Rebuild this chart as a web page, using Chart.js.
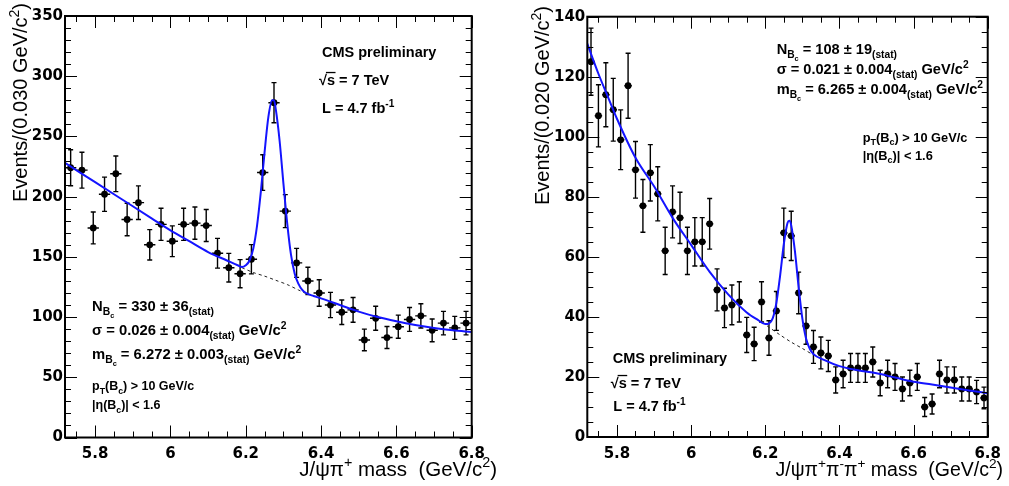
<!DOCTYPE html>
<html><head><meta charset="utf-8">
<script src="https://cdn.jsdelivr.net/npm/chart.js@4/dist/chart.umd.min.js"></script>
<style>
html,body{margin:0;padding:0;background:#fff;}
#wrap{position:relative;width:1009px;height:486px;overflow:hidden;background:#fff;}
canvas{position:absolute;top:0;}
</style></head><body>
<div id="wrap">
<canvas id="cL" width="505" height="486" style="left:0;width:505px;height:486px"></canvas>
<canvas id="cR" width="504" height="486" style="left:505px;width:504px;height:486px"></canvas>
</div>
<script>
// ---------------- data ----------------
const xTicks = [5.8, 6, 6.2, 6.4, 6.6, 6.8];
const leftYTicks = [0, 50, 100, 150, 200, 250, 300, 350];
const rightYTicks = [0, 20, 40, 60, 80, 100, 120, 140];

// Left: J/psi pi+ , bins of 0.030 GeV/c^2
const leftMass = [5.735,5.765,5.795,5.825,5.855,5.885,5.915,5.945,5.975,6.005,6.035,6.065,6.095,6.125,6.155,6.185,6.215,6.245,6.275,6.305,6.335,6.365,6.395,6.425,6.455,6.485,6.515,6.545,6.575,6.605,6.635,6.665,6.695,6.725,6.755,6.785];
const leftEvents = [224,222,174,202,219,181,195,160,177,163,177,178,176,153,141,136,148,220,278,188,145,130,120,110,104,106,81,99,83,92,98,101,89,95,91,95];
const leftFitMass = [5.72,5.76,5.80,5.85,5.90,5.95,6.00,6.05,6.10,6.15,6.18,6.19,6.20,6.21,6.22,6.23,6.24,6.25,6.26,6.27,6.275,6.28,6.29,6.30,6.31,6.32,6.33,6.34,6.35,6.36,6.38,6.40,6.45,6.50,6.55,6.60,6.65,6.70,6.75,6.80];
const leftFitValue = [228,220,212,202,192,182,172,163,154,147,142.8,141.5,143,147,157,176,204,237,266,280,280,272,246,211,178,152,136,127.5,122.5,120,117.5,115.5,110,104.5,100,96.5,93.5,91,89,87.5];
const leftBkgMass = [6.19,6.22,6.25,6.28,6.31,6.34,6.36];
const leftBkgValue = [141,137,134,130.5,127,122.5,119.5];

// Right: J/psi pi+ pi- pi+ , bins of 0.020 GeV/c^2
const rightMass = [5.73,5.75,5.77,5.79,5.81,5.83,5.85,5.87,5.89,5.91,5.93,5.95,5.97,5.99,6.01,6.03,6.05,6.07,6.09,6.11,6.13,6.15,6.17,6.19,6.21,6.23,6.25,6.27,6.29,6.31,6.33,6.35,6.37,6.39,6.41,6.43,6.45,6.47,6.49,6.51,6.53,6.55,6.57,6.59,6.61,6.63,6.65,6.67,6.69,6.71,6.73,6.75,6.77,6.79];
const rightEvents = [125,107,114,109,99,117,89,77,88,81,62,75,73,62,65,65,71,49,43,44,45,34,31,45,33,42,68,67,48,37,30,28,27,19,21,23,23,23,25,18,21,20,16,18,20,10,11,21,19,19,16,16,15,13];
const rightFitMass = [5.72,5.75,5.78,5.80,5.85,5.90,5.95,6.00,6.05,6.10,6.15,6.18,6.20,6.21,6.22,6.23,6.24,6.25,6.26,6.265,6.27,6.28,6.29,6.30,6.31,6.32,6.33,6.36,6.40,6.45,6.50,6.55,6.60,6.65,6.70,6.75,6.80];
const rightFitValue = [131,121,112,106,93,83.5,73,64,55,47.5,41.5,39,37.6,37.8,39.5,44.7,53.7,64.2,71.3,72,70.5,61.9,49.9,39.5,32.8,29.4,27.6,25.6,23.6,22.2,21.2,19.8,18.4,17.5,16.5,15.5,14.6];
const rightBkgMass = [6.205,6.24,6.27,6.30,6.33];
const rightBkgValue = [37,34,31.6,29.5,27.3];

// ---------------- text helpers ----------------
const TXT = '"Liberation Sans", Arial, Helvetica, sans-serif';
const N = t => ({t});
const SUB = t => ({t, f:0.7, dy:0.28});
const SUBSUB = t => ({t, f:0.5, dy:0.45});
const SUP = t => ({t, f:0.7, dy:-0.42});

function setFont(ctx, size, weight){ ctx.font = weight + ' ' + size + 'px ' + TXT; }
function richWidth(ctx, segs, size, weight){
  let w = 0;
  for (const s of segs){ setFont(ctx, size*(s.f||1), weight); w += ctx.measureText(s.t).width; }
  return w;
}
function drawRich(ctx, x, y, segs, size, weight){
  let cx = x;
  ctx.textAlign = 'left'; ctx.textBaseline = 'alphabetic'; ctx.fillStyle = '#000';
  for (const s of segs){
    const fs = size*(s.f||1);
    setFont(ctx, fs, weight);
    const dy = (s.dy||0)*size;
    ctx.fillText(s.t, cx, y+dy);
    const w = ctx.measureText(s.t).width;
    if (s.over){
      ctx.save(); ctx.strokeStyle='#000'; ctx.lineWidth=1.3;
      ctx.beginPath(); ctx.moveTo(cx-1, y - size*0.86); ctx.lineTo(cx+w+0.5, y - size*0.86); ctx.stroke();
      ctx.restore();
    }
    cx += w;
  }
  return cx;
}

// ---------------- plugin: ROOT style frame, ticks, error bars, texts ----------------
const rootDecor = {
  id: 'rootDecor',
  beforeDatasetsDraw(chart){
    const p = chart.options.plugins.rootDecor;
    const ctx = chart.ctx, xs = chart.scales.x, ys = chart.scales.y;
    ctx.save();
    ctx.strokeStyle = '#000'; ctx.lineWidth = 1.4;
    p.mass.forEach((m, i) => {
      const n = p.events[i], e = Math.sqrt(n);
      const px = xs.getPixelForValue(m), py = ys.getPixelForValue(n);
      const pt = ys.getPixelForValue(n + e), pb = ys.getPixelForValue(n - e);
      const pl = xs.getPixelForValue(m - p.halfBin), pr = xs.getPixelForValue(m + p.halfBin);
      ctx.beginPath();
      ctx.moveTo(px, pt); ctx.lineTo(px, pb);
      ctx.moveTo(px-2.5, pt); ctx.lineTo(px+2.5, pt);
      ctx.moveTo(px-2.5, pb); ctx.lineTo(px+2.5, pb);
      ctx.moveTo(pl, py); ctx.lineTo(pr, py);
      ctx.stroke();
    });
    ctx.restore();
  },
  afterDraw(chart){
    const p = chart.options.plugins.rootDecor;
    const ctx = chart.ctx, xs = chart.scales.x, ys = chart.scales.y;
    const a = chart.chartArea;
    ctx.save();
    // ticks
    ctx.strokeStyle = '#000'; ctx.lineWidth = 1;
    ctx.beginPath();
    for (let k = 0; ; k++){
      const v = p.xMinorStart + k*p.xMinorStep;
      if (v > xs.max + 1e-9) break;
      const major = xTicks.some(t => Math.abs(t - v) < 1e-6);
      const L = major ? 12 : 6;
      const px = Math.round(xs.getPixelForValue(v)) + 0.5;
      ctx.moveTo(px, a.bottom); ctx.lineTo(px, a.bottom - L);
      ctx.moveTo(px, a.top); ctx.lineTo(px, a.top + L);
    }
    for (let k = 0; ; k++){
      const v = k*p.yMinorStep;
      if (v > ys.max + 1e-9) break;
      const major = p.yTicks.some(t => Math.abs(t - v) < 1e-6);
      const L = major ? 12 : 6;
      const py = Math.round(ys.getPixelForValue(v)) + 0.5;
      ctx.moveTo(a.left, py); ctx.lineTo(a.left + L, py);
      ctx.moveTo(a.right, py); ctx.lineTo(a.right - L, py);
    }
    ctx.stroke();
    // frame
    ctx.lineWidth = 2;
    ctx.strokeRect(a.left, a.top, a.right - a.left, a.bottom - a.top);
    // texts
    for (const t of p.texts) drawRich(ctx, t.x, t.y, t.segs, t.size, t.weight || 'bold');
    // y title (rotated, right-aligned to top)
    const yt = p.yTitle;
    const wy = richWidth(ctx, yt.segs, yt.size, 'normal');
    ctx.save();
    ctx.translate(yt.x, yt.yEnd + wy);
    ctx.rotate(-Math.PI/2);
    drawRich(ctx, 0, 0, yt.segs, yt.size, 'normal');
    ctx.restore();
    // x title (right-aligned)
    const xt = p.xTitle;
    const wx = richWidth(ctx, xt.segs, xt.size, 'normal');
    drawRich(ctx, xt.xEnd - wx, xt.y, xt.segs, xt.size, 'normal');
    ctx.restore();
  }
};

function makePanel(id, p){
  const tickFont = {family: '"DejaVu Sans", sans-serif', weight: 'bold', size: 15};
  return new Chart(document.getElementById(id), {
    type: 'scatter',
    data: { datasets: [
      { type: 'line', data: p.fitX.map((x, i) => ({x, y: p.fitY[i]})), borderColor: '#1414ff', borderWidth: 2,
        pointRadius: 0, cubicInterpolationMode: 'monotone', fill: false, order: 0 },
      { type: 'line', data: p.bkgX.map((x, i) => ({x, y: p.bkgY[i]})), borderColor: '#222', borderWidth: 1,
        borderDash: [3, 3], pointRadius: 0, tension: 0.3, fill: false, order: 1 },
      { type: 'scatter', data: p.mass.map((x, i) => ({x, y: p.events[i]})), pointRadius: 3.4,
        pointBackgroundColor: '#000', pointBorderColor: '#000', pointBorderWidth: 0, order: 2 }
    ]},
    options: {
      responsive: false, animation: false, events: [],
      layout: { padding: { left: 0, right: p.padRight, top: p.padTop, bottom: 0 } },
      plugins: {
        legend: { display: false }, tooltip: { enabled: false },
        rootDecor: {
          mass: p.mass, events: p.events, halfBin: p.halfBin,
          xMinorStart: 5.75, xMinorStep: 0.05, yMinorStep: p.yMinorStep, yTicks: p.yTicks,
          texts: p.texts, yTitle: p.yTitle, xTitle: p.xTitle
        }
      },
      scales: {
        x: { type: 'linear', min: 5.72, max: 6.8,
          grid: { display: false, drawTicks: false }, border: { display: false },
          ticks: { font: tickFont, color: '#000', padding: 8, maxRotation: 0, autoSkip: false, callback: v => String(v) },
          afterBuildTicks: s => { s.ticks = xTicks.map(v => ({value: v})); },
          afterFit: s => { s.height = p.xAxisH; }
        },
        y: { type: 'linear', min: 0, max: p.yMax,
          grid: { display: false, drawTicks: false }, border: { display: false },
          ticks: { font: tickFont, color: '#000', padding: 2, autoSkip: false, callback: v => String(v) },
          afterBuildTicks: s => { s.ticks = p.yTicks.map(v => ({value: v})); },
          afterFit: s => { s.width = p.yAxisW; }
        }
      }
    },
    plugins: [rootDecor]
  });
}

makePanel('cL', {
  mass: leftMass, events: leftEvents, halfBin: 0.015,
  fitX: leftFitMass, fitY: leftFitValue, bkgX: leftBkgMass, bkgY: leftBkgValue,
  yMax: 350, yTicks: leftYTicks, yMinorStep: 10,
  padRight: 33.3, padTop: 16, yAxisW: 65, xAxisH: 48.5,
  texts: [
    {x: 322, y: 57, size: 14.5, segs: [N('CMS preliminary')]},
    {x: 319, y: 85, size: 14.5, segs: [N('√'), {t: 's', over: true}, N(' = 7 TeV')]},
    {x: 322, y: 113, size: 14.5, segs: [N('L = 4.7 fb'), SUP('-1')]},
    {x: 92, y: 311, size: 14.8, segs: [N('N'), SUB('B'), SUBSUB('c'), N(' = 330 ± 36'), SUB('(stat)')]},
    {x: 92, y: 335, size: 14.8, segs: [N('σ = 0.026 ± 0.004'), SUB('(stat)'), N(' GeV/c'), SUP('2')]},
    {x: 92, y: 359, size: 14.8, segs: [N('m'), SUB('B'), SUBSUB('c'), N(' = 6.272 ± 0.003'), SUB('(stat)'), N(' GeV/c'), SUP('2')]},
    {x: 92, y: 390, size: 12.5, segs: [N('p'), SUB('T'), N('(B'), SUB('c'), N(') > 10 GeV/c')]},
    {x: 92, y: 409, size: 12.5, segs: [N('|η(B'), SUB('c'), N(')| < 1.6')]}
  ],
  yTitle: {x: 27, yEnd: 3, size: 20, segs: [N('Events/(0.030 GeV/c'), SUP('2'), N(')')]},
  xTitle: {xEnd: 497, y: 476, size: 20.5, segs: [N('J/ψπ'), SUP('+'), N(' mass  (GeV/c'), SUP('2'), N(')')]}
});

makePanel('cR', {
  mass: rightMass, events: rightEvents, halfBin: 0.01,
  fitX: rightFitMass, fitY: rightFitValue, bkgX: rightBkgMass, bkgY: rightBkgValue,
  yMax: 140, yTicks: rightYTicks, yMinorStep: 5,
  padRight: 16.3, padTop: 16.7, yAxisW: 82.3, xAxisH: 49,
  texts: [
    {x: 271.7, y: 54, size: 14.6, segs: [N('N'), SUB('B'), SUBSUB('c'), N(' = 108 ± 19'), SUB('(stat)')]},
    {x: 271.7, y: 74, size: 14.6, segs: [N('σ = 0.021 ± 0.004'), SUB('(stat)'), N(' GeV/c'), SUP('2')]},
    {x: 271.7, y: 94, size: 14.6, segs: [N('m'), SUB('B'), SUBSUB('c'), N(' = 6.265 ± 0.004'), SUB('(stat)'), N(' GeV/c'), SUP('2')]},
    {x: 357.7, y: 141.5, size: 12.8, segs: [N('p'), SUB('T'), N('(B'), SUB('c'), N(') > 10 GeV/c')]},
    {x: 357.7, y: 159.5, size: 12.8, segs: [N('|η(B'), SUB('c'), N(')| < 1.6')]},
    {x: 107.7, y: 363, size: 14.5, segs: [N('CMS preliminary')]},
    {x: 105.7, y: 388, size: 14.5, segs: [N('√'), {t: 's', over: true}, N(' = 7 TeV')]},
    {x: 108.3, y: 411, size: 14.5, segs: [N('L = 4.7 fb'), SUP('-1')]}
  ],
  yTitle: {x: 44, yEnd: 6, size: 20, segs: [N('Events/(0.020 GeV/c'), SUP('2'), N(')')]},
  xTitle: {xEnd: 498, y: 476, size: 19.5, segs: [N('J/ψπ'), SUP('+'), N('π'), SUP('-'), N('π'), SUP('+'), N(' mass  (GeV/c'), SUP('2'), N(')')]}
});
</script>
</body></html>
